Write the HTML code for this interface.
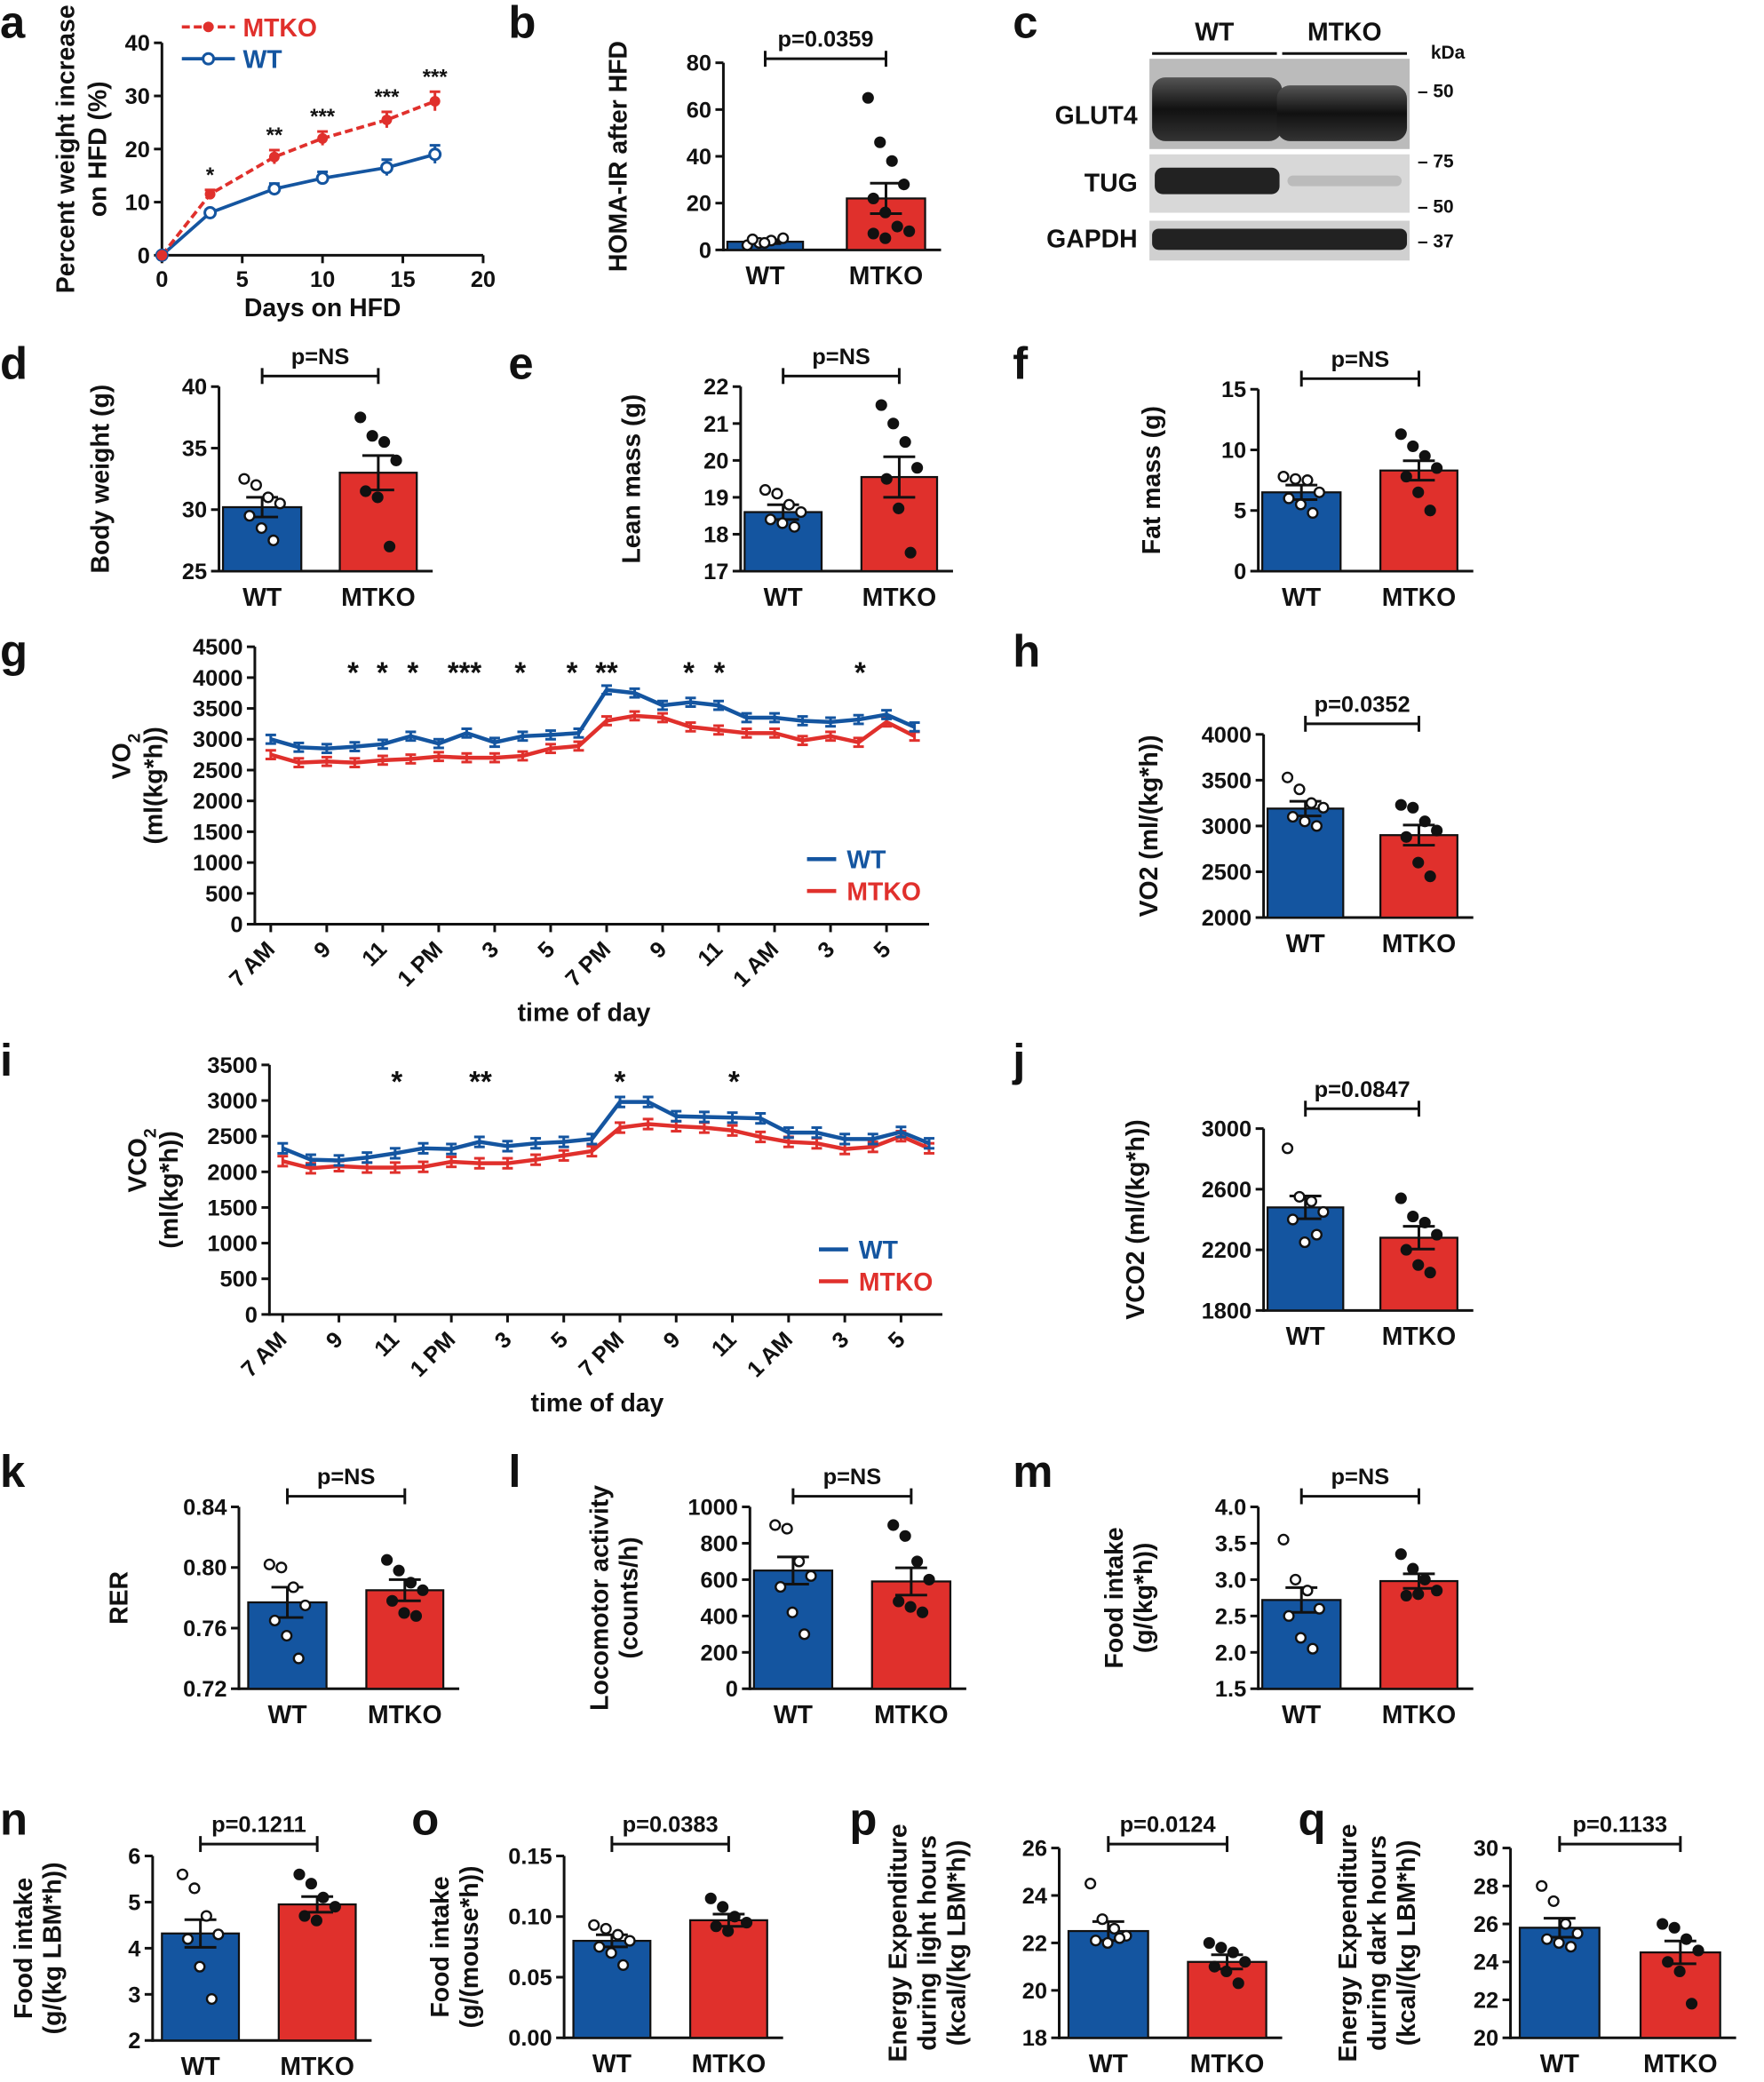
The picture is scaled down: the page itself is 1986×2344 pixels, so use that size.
<!DOCTYPE html>
<html><head><meta charset="utf-8"><style>
html,body{margin:0;padding:0;background:#fff}
svg{display:block}
text{font-family:"Liberation Sans",Arial,sans-serif;font-weight:bold;fill:#111}
</style></head><body>
<svg id="s" width="1986" height="2344" viewBox="0 0 1329 1568" xmlns="http://www.w3.org/2000/svg">
<defs>
<linearGradient id="bl" x1="0" y1="0" x2="0" y2="1"><stop offset="0" stop-color="#555"/><stop offset="0.5" stop-color="#111"/><stop offset="1" stop-color="#333"/></linearGradient>
</defs>
<g>
<text x="915" y="30" font-size="19" text-anchor="middle">WT</text>
<text x="1013" y="30" font-size="19" text-anchor="middle">MTKO</text>
<line x1="868" y1="40" x2="962" y2="40" stroke="#111" stroke-width="2"/>
<line x1="966" y1="40" x2="1060" y2="40" stroke="#111" stroke-width="2"/>
<text x="1078" y="44" font-size="14">kDa</text>
<rect x="866" y="44" width="196" height="68" fill="#bbb"/>
<rect x="868" y="58" width="98" height="48" rx="10" fill="url(#bl)"/>
<rect x="962" y="64" width="98" height="42" rx="10" fill="url(#bl)"/>
<rect x="866" y="116" width="196" height="44" fill="#d8d8d8"/>
<rect x="870" y="126" width="94" height="20" rx="6" fill="#222"/>
<rect x="970" y="132" width="86" height="8" rx="4" fill="#bbb"/>
<rect x="866" y="166" width="196" height="30" fill="#d0d0d0"/>
<rect x="868" y="172" width="192" height="16" rx="5" fill="#222"/>
<text x="857" y="93" font-size="19" text-anchor="end">GLUT4</text>
<text x="857" y="144" font-size="19" text-anchor="end">TUG</text>
<text x="857" y="186" font-size="19" text-anchor="end">GAPDH</text>
<text x="1068" y="73" font-size="14">– 50</text>
<text x="1068" y="126" font-size="14">– 75</text>
<text x="1068" y="160" font-size="14">– 50</text>
<text x="1068" y="186" font-size="14">– 37</text>
</g>
</svg>
<script>
var S=document.getElementById('s'),NS='http://www.w3.org/2000/svg';
function el(t,a,txt){var e=document.createElementNS(NS,t);for(var k in a)e.setAttribute(k,a[k]);if(txt!==undefined)e.textContent=txt;S.appendChild(e);return e;}
function L(x1,y1,x2,y2,c,w,d){var a={x1:x1,y1:y1,x2:x2,y2:y2,stroke:c||'#111','stroke-width':w||2};if(d)a['stroke-dasharray']=d;return el('line',a);}
function T(x,y,s,fs,anc,rot,col){var a={x:x,y:y,'font-size':fs||17,'text-anchor':anc||'middle'};if(rot!==undefined)a.transform='rotate('+rot+' '+x+' '+y+')';if(col)a.style='fill:'+col;return el('text',a,s);}
var BLUE='#1455a0',RED='#e0302c';
[['a',0,28],['b',383,28],['c',763,28],['d',0,285],['e',383,285],['f',763,285],['g',0,502],['h',763,502],['i',0,810],['j',763,810],['k',0,1120],['l',383,1120],['m',763,1120],['n',0,1382],['o',310,1382],['p',640,1382],['q',978,1382]].forEach(function(p){T(p[1],p[2],p[0],34,'start');});
function yaxis(ax,y0,y1,v0,v1,ticks,fmt){var f=function(v){return y0-(v-v0)/(v1-v0)*(y0-y1);};L(ax,y0+1,ax,y1);ticks.forEach(function(t){var y=f(t);L(ax-6,y,ax,y);T(ax-9,y+6,fmt?fmt(t):String(t),17,'end');});return f;}
function barPanel(o){var f=yaxis(o.ax,o.y0,o.y1,o.v0,o.v1,o.ticks,o.fmt);L(o.ax,o.y0,o.bars[1].x2+12,o.y0);
o.bars.forEach(function(b,i){var top=f(b.v);el('rect',{x:b.x1,y:top,width:b.x2-b.x1,height:o.y0-top,fill:i?RED:BLUE,stroke:'#111','stroke-width':1.5});
var cx=(b.x1+b.x2)/2,et=f(b.v+b.e),eb=f(b.v-b.e);L(cx,et,cx,eb);L(cx-12,et,cx+12,et);L(cx-12,eb,cx+12,eb);
b.p.forEach(function(v,j){var dx=((j%4)-1.5)*9+(j>3?4:0);el('circle',{cx:cx+dx,cy:f(v),r:3.6,fill:i?'#111':'#fff',stroke:'#111','stroke-width':1.6});});
T(cx,o.y0+26,i?'MTKO':'WT',19);});
var c0=(o.bars[0].x1+o.bars[0].x2)/2,c1=(o.bars[1].x1+o.bars[1].x2)/2;
L(c0,o.by,c1,o.by);L(c0,o.by-6,c0,o.by+6);L(c1,o.by-6,c1,o.by+6);T((c0+c1)/2,o.by-9,o.pt,17);
o.lab.forEach(function(s,k){T(o.lx+k*22,(o.y0+o.y1)/2,s,19,'middle',-90);});}
(function(){var X=function(d){return 122+d*12.1;},Y=function(v){return 192-v*4;};
L(122,193,122,32);[0,10,20,30,40].forEach(function(t){L(116,Y(t),122,Y(t));T(113,Y(t)+6,t,17,'end');});
L(121,192,364,192);[0,5,10,15,20].forEach(function(t){L(X(t),192,X(t),198);T(X(t),216,t,17);});
T(243,238,'Days on HFD',19);T(56,112,'Percent weight increase',19,'middle',-90);T(80,112,'on HFD (%)',19,'middle',-90);
var d=[0,3,7,10,14,17],r=[0,11.5,18.5,22,25.5,29],w=[0,8,12.5,14.5,16.5,19],re=[0,0.8,1.3,1.3,1.5,1.8],we=[0,0.6,1,1.2,1.5,1.7];
var pr='',pw='';d.forEach(function(x,i){pr+=X(x)+','+Y(r[i])+' ';pw+=X(x)+','+Y(w[i])+' ';});
el('polyline',{points:pw,fill:'none',stroke:BLUE,'stroke-width':2.5});el('polyline',{points:pr,fill:'none',stroke:RED,'stroke-width':2.5,'stroke-dasharray':'6,3'});
d.forEach(function(x,i){if(i){L(X(x),Y(r[i]+re[i]),X(x),Y(r[i]-re[i]),RED,2);L(X(x)-4,Y(r[i]+re[i]),X(x)+4,Y(r[i]+re[i]),RED,2);L(X(x),Y(w[i]+we[i]),X(x),Y(w[i]-we[i]),BLUE,2);L(X(x)-4,Y(w[i]+we[i]),X(x)+4,Y(w[i]+we[i]),BLUE,2);}
el('circle',{cx:X(x),cy:Y(w[i]),r:4,fill:'#fff',stroke:BLUE,'stroke-width':2});el('circle',{cx:X(x),cy:Y(r[i]),r:4,fill:RED});});
['*','**','***','***','***'].forEach(function(s,i){T(X(d[i+1]),Y(r[i+1]+re[i+1])-6,s,16);});
L(137,20,177,20,RED,2.5,'6,3');el('circle',{cx:157,cy:20,r:4,fill:RED});T(183,27,'MTKO',19,'start',undefined,RED);
L(137,44,177,44,BLUE,2.5);el('circle',{cx:157,cy:44,r:4,fill:'#fff',stroke:BLUE,'stroke-width':2});T(183,51,'WT',19,'start',undefined,BLUE);})();
barPanel({ax:545,y0:188,y1:47,v0:0,v1:80,ticks:[0,20,40,60,80],bars:[{x1:548,x2:605,v:3.5,e:0.8,p:[2,3,4,5,4.5,3]},{x1:638,x2:697,v:22,e:6.5,p:[65,46,38,28,22,16,10,8,7,5]}],by:44,pt:'p=0.0359',lab:['HOMA-IR after HFD'],lx:472});
barPanel({ax:165,y0:430,y1:291,v0:25,v1:40,ticks:[25,30,35,40],bars:[{x1:168,x2:227,v:30.2,e:0.8,p:[32.5,32,31,30.5,29.5,28.5,27.5]},{x1:256,x2:314,v:33,e:1.4,p:[37.5,36,35.5,34,31.5,31,27]},],by:283,pt:'p=NS',lab:['Body weight (g)'],lx:82});
barPanel({ax:558,y0:430,y1:291,v0:17,v1:22,ticks:[17,18,19,20,21,22],bars:[{x1:561,x2:619,v:18.6,e:0.2,p:[19.2,19.1,18.8,18.6,18.4,18.3,18.2]},{x1:649,x2:706,v:19.55,e:0.55,p:[21.5,21,20.5,19.8,19.5,18.7,17.5]}],by:283,pt:'p=NS',lab:['Lean mass (g)'],lx:482});
barPanel({ax:948,y0:430,y1:293,v0:0,v1:15,ticks:[0,5,10,15],bars:[{x1:951,x2:1010,v:6.5,e:0.6,p:[7.8,7.6,7.5,6.5,6,5.5,4.8]},{x1:1040,x2:1098,v:8.3,e:0.8,p:[11.3,10.3,9.5,8.5,7.8,6.5,5]}],by:285,pt:'p=NS',lab:['Fat mass (g)'],lx:874});
function tpanel(o){var f=yaxis(o.ax,o.y0,o.y1,0,o.vmax,o.ticks);L(o.ax,o.y0,o.xr,o.y0);
var n=o.b.length,X=function(i){return o.xs+i*(o.xe-o.xs)/(n-1);};
['7 AM','9','11','1 PM','3','5','7 PM','9','11','1 AM','3','5'].forEach(function(s,i){var x=X(i*2);L(x,o.y0,x,o.y0+6);T(x+4,o.y0+20,s,17,'end',-45);});
[[o.r,RED],[o.b,BLUE]].forEach(function(q){var p='';q[0].forEach(function(v,i){p+=X(i)+','+f(v)+' ';var e=f(v+o.err),e2=f(v-o.err);L(X(i),e,X(i),e2,q[1],2);L(X(i)-4,e,X(i)+4,e,q[1],2);L(X(i)-4,e2,X(i)+4,e2,q[1],2);});el('polyline',{points:p,fill:'none',stroke:q[1],'stroke-width':3});});
o.stars.forEach(function(s){T(s[0],o.sy,s[1],22);});
T(o.tx,o.y0+73,'time of day',19);
var cy=(o.y0+o.y1)/2-22;
var t=el('text',{x:o.lx,y:cy,'font-size':19,'text-anchor':'middle',transform:'rotate(-90 '+o.lx+' '+cy+')'},o.lab0);
var ts=document.createElementNS(NS,'tspan');ts.setAttribute('baseline-shift','sub');ts.setAttribute('font-size','13');ts.textContent='2';t.appendChild(ts);
T(o.lx+24,(o.y0+o.y1)/2,'(ml(kg*h))',19,'middle',-90);
L(o.lgx,o.lgy,o.lgx+22,o.lgy,BLUE,3);T(o.lgx+30,o.lgy+7,'WT',19,'start',undefined,BLUE);
L(o.lgx,o.lgy+24,o.lgx+22,o.lgy+24,RED,3);T(o.lgx+30,o.lgy+31,'MTKO',19,'start',undefined,RED);}
tpanel({ax:192,y0:696,y1:487,vmax:4500,ticks:[0,500,1000,1500,2000,2500,3000,3500,4000,4500],xr:700,xs:204,xe:689,err:70,
b:[3000,2870,2850,2880,2920,3050,2930,3100,2950,3050,3070,3100,3800,3750,3550,3600,3550,3350,3350,3300,3280,3320,3400,3200],
r:[2750,2620,2640,2620,2660,2680,2720,2700,2700,2730,2850,2890,3300,3380,3350,3200,3150,3100,3100,2980,3050,2950,3280,3050],
stars:[[266,'*'],[288,'*'],[311,'*'],[350,'***'],[392,'*'],[431,'*'],[457,'**'],[519,'*'],[542,'*'],[648,'*']],sy:514,tx:440,lab0:'VO',lx:98,lgx:608,lgy:647});
tpanel({ax:203,y0:990,y1:802,vmax:3500,ticks:[0,500,1000,1500,2000,2500,3000,3500],xr:710,xs:213,xe:700,err:70,
b:[2330,2170,2160,2200,2260,2330,2320,2420,2360,2400,2420,2460,2980,2980,2780,2770,2760,2750,2550,2550,2460,2460,2560,2400],
r:[2150,2050,2080,2060,2060,2070,2140,2120,2120,2170,2230,2290,2620,2670,2640,2620,2580,2490,2420,2400,2320,2350,2500,2330],
stars:[[299,'*'],[362,'**'],[467,'*'],[553,'*']],sy:822,tx:450,lab0:'VCO',lx:110,lgx:617,lgy:941});
barPanel({ax:952,y0:691,y1:553,v0:2000,v1:4000,ticks:[2000,2500,3000,3500,4000],bars:[{x1:955,x2:1012,v:3190,e:80,p:[3530,3400,3250,3200,3100,3050,3000]},{x1:1040,x2:1098,v:2900,e:110,p:[3230,3200,3050,2950,2880,2600,2450]}],by:545,pt:'p=0.0352',lab:['VO2 (ml/(kg*h))'],lx:872});
barPanel({ax:952,y0:987,y1:850,v0:1800,v1:3000,ticks:[1800,2200,2600,3000],bars:[{x1:955,x2:1012,v:2480,e:75,p:[2870,2550,2520,2450,2400,2250,2300]},{x1:1040,x2:1098,v:2280,e:75,p:[2540,2420,2380,2300,2200,2100,2050]}],by:835,pt:'p=0.0847',lab:['VCO2 (ml/(kg*h))'],lx:862});
barPanel({ax:180,y0:1272,y1:1135,v0:0.72,v1:0.84,ticks:[0.72,0.76,0.80,0.84],fmt:function(t){return t.toFixed(2);},bars:[{x1:187,x2:246,v:0.777,e:0.01,p:[0.802,0.8,0.787,0.775,0.765,0.755,0.74]},{x1:276,x2:334,v:0.785,e:0.007,p:[0.805,0.798,0.79,0.785,0.778,0.77,0.768]}],by:1127,pt:'p=NS',lab:['RER'],lx:96});
barPanel({ax:565,y0:1272,y1:1135,v0:0,v1:1000,ticks:[0,200,400,600,800,1000],bars:[{x1:568,x2:627,v:650,e:75,p:[900,880,700,620,560,420,300]},{x1:657,x2:716,v:590,e:75,p:[900,840,700,600,480,450,420]}],by:1127,pt:'p=NS',lab:['Locomotor activity','(counts/h)'],lx:458});
barPanel({ax:948,y0:1272,y1:1135,v0:1.5,v1:4.0,ticks:[1.5,2.0,2.5,3.0,3.5,4.0],fmt:function(t){return t.toFixed(1);},bars:[{x1:951,x2:1010,v:2.72,e:0.17,p:[3.55,3.0,2.85,2.6,2.5,2.2,2.05]},{x1:1040,x2:1098,v:2.98,e:0.1,p:[3.35,3.15,3.0,2.85,2.78,2.8]}],by:1127,pt:'p=NS',lab:['Food intake','(g/(kg*h))'],lx:846});
barPanel({ax:115,y0:1537,y1:1398,v0:2,v1:6,ticks:[2,3,4,5,6],bars:[{x1:122,x2:180,v:4.32,e:0.3,p:[5.6,5.3,4.7,4.3,4.2,3.6,2.9]},{x1:210,x2:268,v:4.95,e:0.17,p:[5.6,5.4,5.1,4.9,4.7,4.6]}],by:1389,pt:'p=0.1211',lab:['Food intake','(g/(kg LBM*h))'],lx:24});
barPanel({ax:425,y0:1535,y1:1398,v0:0,v1:0.15,ticks:[0,0.05,0.10,0.15],fmt:function(t){return t.toFixed(2);},bars:[{x1:432,x2:490,v:0.08,e:0.005,p:[0.093,0.09,0.085,0.08,0.075,0.07,0.06]},{x1:520,x2:578,v:0.097,e:0.005,p:[0.115,0.108,0.1,0.095,0.092,0.088]}],by:1389,pt:'p=0.0383',lab:['Food intake','(g/(mouse*h))'],lx:338});
barPanel({ax:798,y0:1535,y1:1392,v0:18,v1:26,ticks:[18,20,22,24,26],bars:[{x1:805,x2:865,v:22.5,e:0.4,p:[24.5,23,22.6,22.3,22.1,22,22.2]},{x1:895,x2:954,v:21.2,e:0.3,p:[22,21.8,21.6,21.2,21,20.8,20.3]}],by:1389,pt:'p=0.0124',lab:['Energy Expenditure','during light hours','(kcal/(kg LBM*h))'],lx:683});
barPanel({ax:1138,y0:1535,y1:1392,v0:20,v1:30,ticks:[20,22,24,26,28,30],bars:[{x1:1145,x2:1205,v:25.8,e:0.5,p:[28,27.2,26,25.5,25.2,25,24.8]},{x1:1236,x2:1296,v:24.5,e:0.6,p:[26,25.8,25.2,24.6,24,23.5,21.8]}],by:1389,pt:'p=0.1133',lab:['Energy Expenditure','during dark hours','(kcal/(kg LBM*h))'],lx:1022});
</script>
</body></html>
